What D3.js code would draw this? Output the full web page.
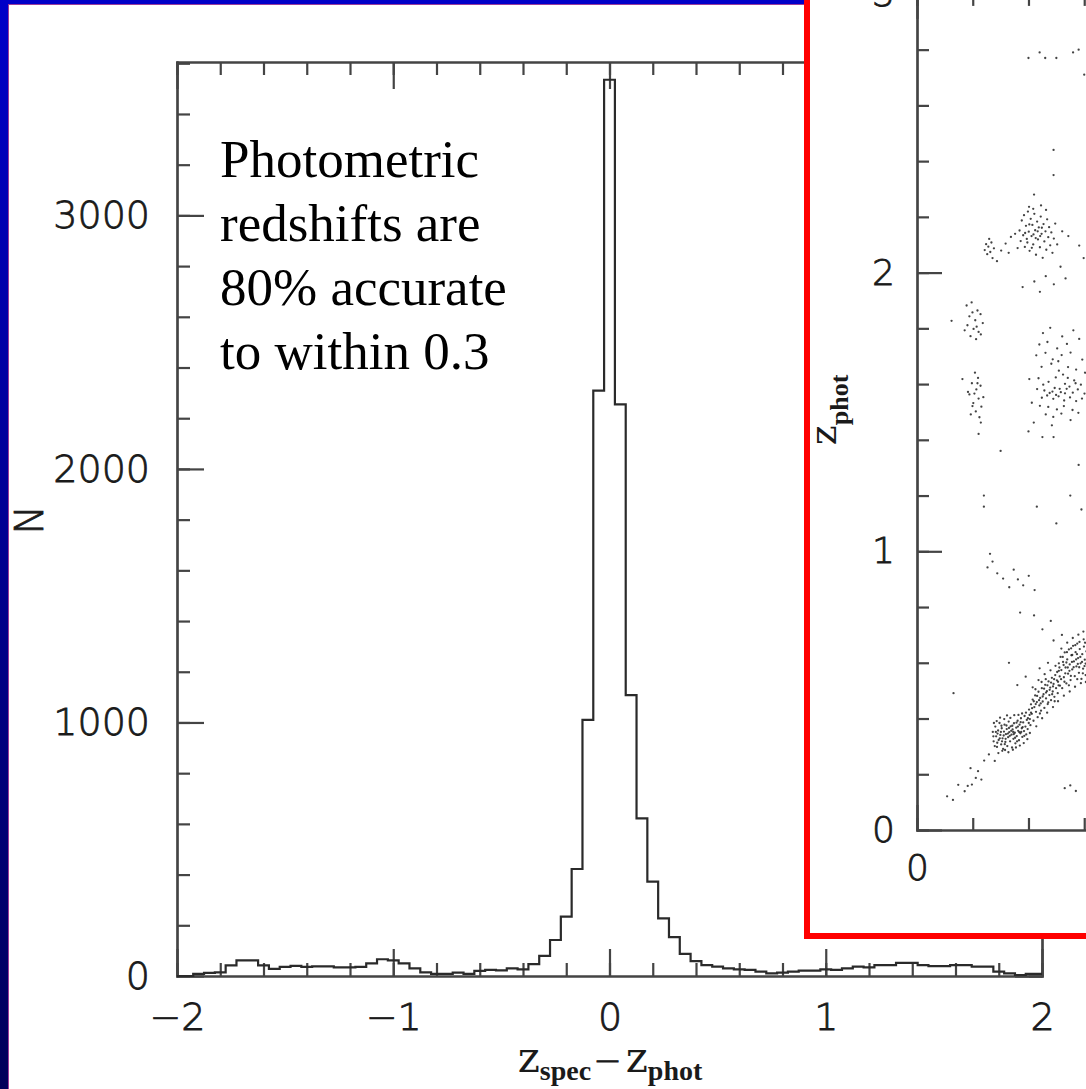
<!DOCTYPE html>
<html>
<head>
<meta charset="utf-8">
<script src="https://cdn.jsdelivr.net/npm/d3@7"></script>
<style>
  body { margin: 0; background: #fff; }
  svg { display: block; }
</style>
</head>
<body>
<div id="chart"></div>
<script>
// histogram of zspec - zphot, bins 0.05 wide centred on -1.95 ... 1.95
var binCenters = d3.range(79).map(function (i) { return -1.95 + i * 0.05; });
var binCounts = [
  0, 8, 12, 14, 42, 62, 62, 42, 28, 36, 40, 36, 38, 38, 34, 34, 36, 50, 66, 62,
  50, 30, 14, 8, 8, 13, 8, 20, 24, 22, 30, 26, 47,
  79, 142, 234, 422, 1010, 2309, 3535, 2255, 1108, 622, 372,
  227, 153, 87, 59, 43, 37, 30, 26, 24, 17, 10, 13, 17, 21, 21, 26, 24, 30, 37, 34,
  43, 43, 52, 52, 43, 39, 39, 43, 43, 37, 37, 17, 10, 4, 8
];

// tick values
var xMajor = [-2, -1, 0, 1, 2];
var xMinor = d3.range(21).map(function (i) { return -2 + i * 0.2; });
var yMajor = [0, 1000, 2000, 3000];
var yMinor = d3.range(19).map(function (i) { return i * 200; });

var noteLines = ["Photometric", "redshifts are", "80% accurate", "to within 0.3"];

// inset: zspec vs zphot (only its left part is on the slide)
var insetMajor = [0, 1, 2, 3];
var insetMinor = d3.range(16).map(function (i) { return i * 0.2; });
var insetXLabels = [0];
var insetYLabels = [0, 1, 2, 3];

// points, grouped by the clumps they sit in
var ptsHigh = [
  [0.40,2.77],[0.44,2.79],[0.46,2.77],[0.50,2.77],[0.56,2.79],[0.58,2.80],[0.60,2.71],[0.49,2.44],[0.49,2.35],[0.42,2.28],
  [0.368,2.151],[0.372,2.113],[0.376,2.187],[0.381,2.134],[0.384,2.206],[0.387,2.092],[0.391,2.168],[0.394,2.121],
  [0.398,2.219],[0.401,2.147],[0.404,2.078],[0.408,2.193],[0.411,2.131],[0.414,2.171],[0.417,2.101],[0.421,2.211],
  [0.424,2.152],[0.427,2.064],[0.431,2.183],[0.434,2.119],[0.437,2.162],[0.441,2.091],[0.444,2.201],[0.447,2.139],
  [0.451,2.053],[0.454,2.174],[0.457,2.112],[0.461,2.148],[0.464,2.082],[0.467,2.191],[0.471,2.127],[0.474,2.163],
  [0.478,2.098],[0.482,2.144],[0.486,2.071],[0.491,2.122],[0.496,2.176],[0.388,2.142],[0.403,2.173],[0.418,2.137],
  [0.433,2.148],[0.448,2.161],[0.396,2.108],[0.412,2.089],[0.426,2.124],[0.442,2.131],[0.402,2.236],[0.417,2.229],
  [0.445,2.241],[0.463,2.225],[0.503,2.101],[0.521,2.148],[0.543,2.131],[0.352,2.139],[0.361,2.088],
  [0.243,2.081],[0.248,2.102],[0.252,2.066],[0.256,2.093],[0.259,2.121],[0.263,2.074],[0.267,2.108],[0.271,2.052],
  [0.276,2.087],[0.302,2.079],[0.318,2.104],[0.329,2.071],[0.337,2.128],[0.287,2.041],
  [0.421,1.968],[0.462,1.987],[0.491,1.958],[0.533,1.979],[0.441,1.931],[0.379,1.948],[0.582,2.097],[0.598,2.052],[0.515,2.021]
];
var ptsMid = [
  [0.178,1.882],[0.196,1.893],[0.217,1.864],[0.188,1.843],[0.209,1.829],[0.228,1.851],[0.181,1.811],[0.203,1.798],
  [0.221,1.787],[0.236,1.819],[0.192,1.772],[0.212,1.761],[0.229,1.778],[0.171,1.793],[0.124,1.827],[0.199,1.857],[0.214,1.806],
  [0.208,1.641],[0.219,1.622],[0.197,1.603],[0.213,1.581],[0.228,1.594],[0.188,1.563],[0.221,1.548],[0.202,1.532],
  [0.231,1.519],[0.211,1.502],[0.193,1.491],[0.224,1.481],[0.238,1.553],[0.183,1.572],[0.163,1.618],[0.229,1.462],
  [0.221,1.421],[0.206,1.566],[0.217,1.603],[0.199,1.521],
  [0.452,1.783],[0.478,1.802],[0.521,1.771],[0.561,1.793],[0.439,1.742],[0.468,1.751],[0.503,1.728],[0.538,1.744],
  [0.582,1.762],[0.428,1.703],[0.461,1.712],[0.487,1.689],[0.519,1.704],[0.551,1.713],[0.593,1.688],[0.447,1.662],
  [0.482,1.673],[0.509,1.648],[0.542,1.661],[0.571,1.652],[0.603,1.641],[0.436,1.621],[0.472,1.608],[0.498,1.624],
  [0.531,1.601],[0.564,1.613],[0.588,1.598],[0.431,1.582],[0.457,1.577],[0.476,1.568],[0.494,1.586],[0.516,1.571],
  [0.537,1.583],[0.559,1.569],[0.577,1.581],[0.601,1.566],[0.448,1.551],[0.467,1.559],[0.489,1.547],[0.508,1.556],
  [0.528,1.541],[0.549,1.552],[0.571,1.539],[0.592,1.548],[0.441,1.522],[0.471,1.518],[0.502,1.509],[0.527,1.521],
  [0.558,1.507],[0.462,1.491],[0.489,1.482],[0.518,1.494],[0.579,1.497],[0.419,1.462],[0.403,1.618],[0.412,1.533],
  [0.551,1.471],[0.484,1.452],[0.512,1.583],[0.531,1.567],[0.486,1.573],[0.547,1.591],[0.524,1.634],[0.499,1.561],
  [0.569,1.603],[0.453,1.598],[0.507,1.682],[0.541,1.622],
  [0.40,1.43],[0.45,1.41],[0.49,1.41],[0.30,1.36],[0.58,1.31],[0.55,1.20],[0.59,1.15],[0.24,1.20],[0.24,1.16],
  [0.43,1.16],[0.50,1.10],
  [0.262,0.991],[0.271,0.963],[0.253,0.942],[0.288,0.921],[0.309,0.902],[0.347,0.934],[0.362,0.899],[0.381,0.878],
  [0.401,0.912],[0.331,0.871],[0.422,0.861]
];
var ptsLow = [
  [0.108,0.121],[0.129,0.108],[0.148,0.162],[0.171,0.139],[0.182,0.158],[0.197,0.163],[0.211,0.187],[0.219,0.211],
  [0.241,0.249],[0.258,0.271],[0.192,0.222],[0.231,0.181],[0.279,0.248],[0.131,0.491],
  [0.272,0.352],[0.275,0.318],[0.281,0.371],[0.284,0.336],[0.287,0.298],[0.291,0.357],[0.293,0.323],[0.296,0.384],
  [0.299,0.341],[0.302,0.307],[0.304,0.365],[0.307,0.329],[0.309,0.291],[0.312,0.353],[0.314,0.378],[0.317,0.316],
  [0.319,0.344],[0.322,0.362],[0.324,0.301],[0.327,0.333],[0.329,0.389],[0.331,0.351],[0.334,0.318],[0.336,0.372],
  [0.339,0.342],[0.341,0.296],[0.343,0.361],[0.346,0.327],[0.348,0.383],[0.351,0.349],[0.353,0.311],[0.356,0.367],
  [0.358,0.337],[0.361,0.392],[0.363,0.356],[0.366,0.322],[0.368,0.378],[0.371,0.347],[0.373,0.401],[0.376,0.365],
  [0.378,0.334],[0.381,0.386],[0.384,0.355],[0.386,0.409],[0.389,0.371],[0.392,0.343],[0.394,0.395],[0.397,0.362],
  [0.401,0.384],[0.404,0.413],[0.407,0.376],[0.283,0.352],[0.297,0.329],[0.311,0.339],[0.326,0.346],[0.338,0.356],
  [0.352,0.331],[0.367,0.351],[0.379,0.369],[0.301,0.352],[0.318,0.327],[0.333,0.338],[0.347,0.344],[0.362,0.371],
  [0.374,0.352],[0.288,0.313],[0.305,0.318],[0.321,0.375],[0.342,0.374],[0.357,0.385],
  [0.276,0.384],[0.279,0.301],[0.286,0.391],[0.292,0.276],[0.298,0.403],[0.306,0.284],[0.313,0.398],[0.316,0.287],
  [0.323,0.411],[0.328,0.279],[0.335,0.402],[0.344,0.288],[0.349,0.412],[0.355,0.296],[0.364,0.413],[0.369,0.303],
  [0.377,0.418],[0.383,0.312],[0.391,0.421],[0.396,0.326],[0.405,0.348],[0.409,0.421],[0.274,0.336],[0.289,0.346],
  [0.303,0.374],[0.315,0.308],[0.330,0.366],[0.345,0.352],[0.359,0.318],[0.372,0.387],[0.385,0.338],[0.398,0.401],
  [0.402,0.432],[0.405,0.398],[0.409,0.451],[0.412,0.417],[0.415,0.468],[0.418,0.392],[0.421,0.441],[0.424,0.483],
  [0.427,0.424],[0.430,0.459],[0.433,0.405],[0.436,0.496],[0.439,0.447],[0.442,0.474],[0.445,0.428],[0.448,0.509],
  [0.451,0.461],[0.454,0.487],[0.457,0.438],[0.460,0.521],[0.463,0.472],[0.466,0.498],[0.469,0.452],[0.472,0.533],
  [0.475,0.484],[0.478,0.511],[0.481,0.466],[0.484,0.546],[0.487,0.497],[0.490,0.524],[0.493,0.478],[0.496,0.556],
  [0.499,0.509],[0.502,0.537],[0.505,0.491],[0.508,0.519],[0.413,0.437],[0.426,0.452],[0.438,0.466],[0.451,0.479],
  [0.463,0.493],[0.476,0.503],[0.488,0.515],[0.419,0.462],[0.444,0.454],[0.468,0.519],[0.492,0.541],[0.431,0.481],
  [0.456,0.507],[0.481,0.529],
  [0.415,0.512],[0.428,0.372],[0.436,0.538],[0.449,0.401],[0.458,0.559],[0.467,0.421],[0.479,0.573],[0.488,0.441],
  [0.497,0.589],[0.506,0.462],[0.518,0.651],[0.527,0.482],[0.539,0.672],[0.548,0.497],[0.559,0.689],[0.567,0.514],
  [0.579,0.701],[0.588,0.527],[0.597,0.712],[0.606,0.531],[0.425,0.505],[0.447,0.531],[0.471,0.458],[0.494,0.462],
  [0.513,0.518],[0.536,0.601],[0.557,0.628],[0.582,0.584],[0.603,0.672],[0.441,0.418],[0.462,0.541],[0.485,0.487],
  [0.509,0.571],[0.529,0.532],[0.552,0.553],[0.574,0.631],[0.595,0.562],
  [0.503,0.567],[0.506,0.532],[0.509,0.598],[0.512,0.551],[0.515,0.621],[0.518,0.574],[0.521,0.509],[0.524,0.603],
  [0.527,0.548],[0.530,0.637],[0.533,0.583],[0.536,0.526],[0.539,0.612],[0.542,0.561],[0.545,0.648],[0.548,0.594],
  [0.551,0.538],[0.554,0.627],[0.557,0.576],[0.560,0.661],[0.563,0.605],[0.566,0.552],[0.569,0.638],[0.572,0.587],
  [0.575,0.669],[0.578,0.617],[0.581,0.564],[0.584,0.649],[0.587,0.598],[0.590,0.542],[0.593,0.631],[0.596,0.579],
  [0.599,0.658],[0.602,0.611],[0.605,0.556],[0.608,0.641],[0.511,0.583],[0.526,0.592],[0.541,0.583],[0.556,0.603],
  [0.571,0.612],[0.586,0.621],[0.601,0.588],[0.517,0.541],[0.532,0.562],[0.547,0.571],[0.562,0.584],[0.577,0.596],
  [0.592,0.603],[0.523,0.621],[0.538,0.638],[0.553,0.652],[0.568,0.663],[0.583,0.675],[0.598,0.684],[0.545,0.519],
  [0.575,0.541],[0.605,0.597],
  [0.37,0.78],[0.42,0.77],[0.45,0.72],[0.49,0.68],[0.47,0.60],[0.44,0.58],[0.39,0.55],[0.36,0.52],[0.48,0.75],
  [0.52,0.70],[0.33,0.60],[0.53,0.15],[0.55,0.16],[0.57,0.14]
];

var W = 1086, H = 1089;
var axisColor = "#444";
var tickFont = "'DejaVu Sans', sans-serif";

var svg = d3.select("#chart").append("svg")
    .attr("width", W)
    .attr("height", H);

// slide background: blue gradient frame with the white picture on top
var defs = svg.append("defs");
var grad = defs.append("linearGradient")
    .attr("id", "frame").attr("x1", 0).attr("y1", 0).attr("x2", 0).attr("y2", 1);
grad.append("stop").attr("offset", "0%").attr("stop-color", "#0000c8");
grad.append("stop").attr("offset", "100%").attr("stop-color", "#00005a");

svg.append("rect").attr("width", W).attr("height", H).attr("fill", "url(#frame)");
svg.append("rect")
    .attr("x", 8.5).attr("y", 4.5)
    .attr("width", W + 20).attr("height", H + 20)
    .attr("fill", "#fff")
    .attr("stroke", "#9a3c9a").attr("stroke-width", 1);

// thin hershey-like numerals: extra light face with a hairline stroke
function numStyle(sel, size) {
  sel.attr("fill", "#1a1a1a")
    .attr("stroke", "#1a1a1a")
    .attr("stroke-width", 0.8)
    .style("font-family", tickFont)
    .style("font-size", size + "px")
    .style("font-weight", 200);
}

function styleAxis(g, size) {
  g.selectAll("path.domain")
    .attr("stroke", axisColor).attr("stroke-width", 2.2).attr("stroke-linecap", "square");
  g.selectAll(".tick line").attr("stroke", axisColor).attr("stroke-width", 2.2);
  g.selectAll("text").call(numStyle, size);
}

// ---------- main histogram ----------
var x = d3.scaleLinear().domain([-2, 2]).range([177, 1042]);
var y = d3.scaleLinear().domain([0, 3605]).range([976, 62]);

var main = svg.append("g");

// minor ticks
main.append("g").attr("transform", "translate(0,976)")
    .call(d3.axisBottom(x).tickValues(xMinor).tickSize(-13).tickSizeOuter(0).tickFormat(""))
    .call(styleAxis, 38);
main.append("g").attr("transform", "translate(0,62)")
    .call(d3.axisTop(x).tickValues(xMinor).tickSize(-13).tickSizeOuter(0).tickFormat(""))
    .call(styleAxis, 38);
main.append("g").attr("transform", "translate(177,0)")
    .call(d3.axisLeft(y).tickValues(yMinor).tickSize(-13).tickSizeOuter(0).tickFormat(""))
    .call(styleAxis, 38);
main.append("g").attr("transform", "translate(1042,0)")
    .call(d3.axisRight(y).tickValues(yMinor).tickSize(-13).tickSizeOuter(0).tickFormat(""))
    .call(styleAxis, 38);

// major ticks with labels
main.append("g").attr("transform", "translate(0,976)")
    .call(d3.axisBottom(x).tickValues(xMajor).tickSize(-27).tickSizeOuter(0)
      .tickPadding(27).tickFormat(d3.format("d")))
    .call(styleAxis, 38);
main.append("g").attr("transform", "translate(0,62)")
    .call(d3.axisTop(x).tickValues(xMajor).tickSize(-27).tickSizeOuter(0).tickFormat(""))
    .call(styleAxis, 38);
main.append("g").attr("transform", "translate(177,0)")
    .call(d3.axisLeft(y).tickValues(yMajor).tickSize(-27).tickSizeOuter(0)
      .tickPadding(27).tickFormat(d3.format("d")))
    .call(styleAxis, 38);
main.append("g").attr("transform", "translate(1042,0)")
    .call(d3.axisRight(y).tickValues(yMajor).tickSize(-27).tickSizeOuter(0).tickFormat(""))
    .call(styleAxis, 38);

// step outline of the histogram
var stepPts = binCounts.map(function (c, i) {
  return [i === 0 ? -2 : binCenters[i] - 0.025, c];
});
stepPts.push([2, binCounts[binCounts.length - 1]]);

var stepLine = d3.line()
    .x(function (d) { return x(d[0]); })
    .y(function (d) { return y(d[1]); })
    .curve(d3.curveStepAfter);

main.append("path")
    .datum(stepPts)
    .attr("d", stepLine)
    .attr("fill", "none")
    .attr("stroke", "#2a2a2a")
    .attr("stroke-width", 2.2);

// axis titles
main.append("text")
    .attr("transform", "translate(43,520) rotate(-90)")
    .attr("text-anchor", "middle")
    .call(numStyle, 39)
    .text("N");

var xt = main.append("text")
    .attr("x", 610).attr("y", 1072)
    .attr("text-anchor", "middle")
    .attr("fill", "#1a1a1a");
xt.append("tspan").style("font-family", "'DejaVu Serif', serif").style("font-size", "42px").text("z");
xt.append("tspan").attr("dy", 8)
    .style("font-family", "'Liberation Serif', serif").style("font-size", "28px").style("font-weight", "bold")
    .text("spec");
xt.append("tspan").attr("dy", -8).attr("dx", 2).call(numStyle, 34).text("\u2212");
xt.append("tspan").attr("dx", 4).style("font-family", "'DejaVu Serif', serif").style("font-size", "42px").text("z");
xt.append("tspan").attr("dy", 8)
    .style("font-family", "'Liberation Serif', serif").style("font-size", "28px").style("font-weight", "bold")
    .text("phot");

// the note in the upper left
main.append("g").selectAll("text")
    .data(noteLines)
    .enter()
    .append("text")
    .attr("x", 220)
    .attr("y", function (d, i) { return 177 + i * 64; })
    .style("font-family", "'Liberation Serif', 'Times New Roman', serif")
    .style("font-size", "53px")
    .attr("fill", "#000")
    .text(function (d) { return d; });

// ---------- inset scatter ----------
defs.append("clipPath").attr("id", "insetClip")
  .append("rect").attr("x", 807).attr("y", -10).attr("width", 400).attr("height", 946);

var inset = svg.append("g").attr("clip-path", "url(#insetClip)");
inset.append("rect").attr("x", 807).attr("y", -10).attr("width", 400).attr("height", 946).attr("fill", "#fff");

var xs = d3.scaleLinear().domain([0, 3]).range([917, 917 + 3 * 278.7]);
var ys = d3.scaleLinear().domain([0, 3]).range([830, 830 - 3 * 278.7]);

inset.append("g").attr("transform", "translate(0,830)")
    .call(d3.axisBottom(xs).tickValues(insetMinor).tickSize(-12).tickSizeOuter(0).tickFormat(""))
    .call(styleAxis, 36);
inset.append("g").attr("transform", "translate(0," + ys(3) + ")")
    .call(d3.axisTop(xs).tickValues(insetMinor).tickSize(-12).tickSizeOuter(0).tickFormat(""))
    .call(styleAxis, 36);
inset.append("g").attr("transform", "translate(917,0)")
    .call(d3.axisLeft(ys).tickValues(insetMinor).tickSize(-12).tickSizeOuter(0).tickFormat(""))
    .call(styleAxis, 36);
inset.append("g").attr("transform", "translate(0,830)")
    .call(d3.axisBottom(xs).tickValues(insetMajor).tickSize(-25).tickSizeOuter(0).tickFormat(""))
    .call(styleAxis, 36);
inset.append("g").attr("transform", "translate(0,830)")
    .call(d3.axisBottom(xs).tickValues(insetXLabels).tickSize(0).tickSizeOuter(0)
      .tickPadding(24).tickFormat(d3.format("d")))
    .call(styleAxis, 36)
    .select("path.domain").remove();
inset.append("g").attr("transform", "translate(0," + ys(3) + ")")
    .call(d3.axisTop(xs).tickValues(insetMajor).tickSize(-25).tickSizeOuter(0).tickFormat(""))
    .call(styleAxis, 36);
inset.append("g").attr("transform", "translate(917,0)")
    .call(d3.axisLeft(ys).tickValues(insetYLabels).tickSize(-25).tickSizeOuter(0)
      .tickPadding(22).tickFormat(d3.format("d")))
    .call(styleAxis, 36);

inset.append("g").selectAll("circle")
    .data(ptsHigh.concat(ptsMid, ptsLow))
    .enter()
    .append("circle")
    .attr("cx", function (d) { return xs(d[0]); })
    .attr("cy", function (d) { return ys(d[1]); })
    .attr("r", 1.15)
    .attr("fill", "#222")
    .attr("fill-opacity", 0.85);

var yt = inset.append("text")
    .attr("transform", "translate(836,410) rotate(-90)")
    .attr("text-anchor", "middle")
    .attr("fill", "#1a1a1a");
yt.append("tspan").style("font-family", "'DejaVu Serif', serif").style("font-size", "38px").text("z");
yt.append("tspan").attr("dy", 12)
    .style("font-family", "'Liberation Serif', serif").style("font-size", "26px").style("font-weight", "bold")
    .text("phot");

// red frame round the inset
svg.append("rect")
    .attr("x", 807).attr("y", -10)
    .attr("width", 400).attr("height", 946)
    .attr("fill", "none")
    .attr("stroke", "#ff0000")
    .attr("stroke-width", 6);
</script>
</body>
</html>
